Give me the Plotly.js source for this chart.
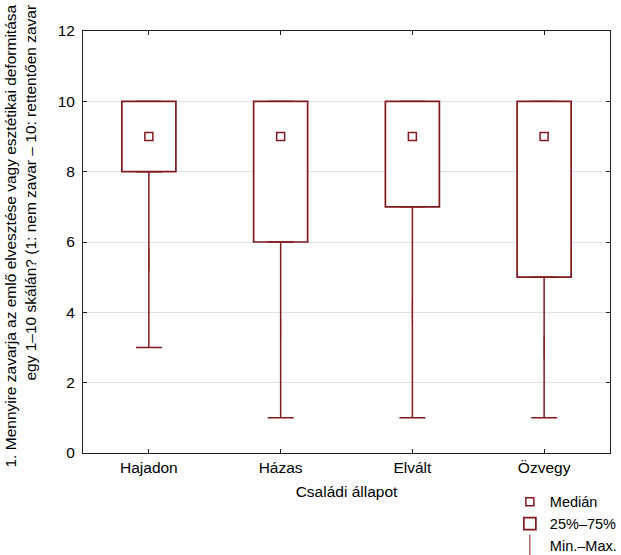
<!DOCTYPE html>
<html>
<head>
<meta charset="utf-8">
<script src="https://cdn.plot.ly/plotly-3.0.1.min.js"></script>
<style>html,body{margin:0;padding:0;background:#fff;}#chart{width:621px;height:555px;}</style>
</head>
<body>
<div id="chart"></div>
<script>
const categories = ["Hajadon", "Házas", "Elvált", "Özvegy"];
const minVals = [3, 1, 1, 1];
const q1Vals = [8, 6, 7, 5];
const medianVals = [9, 9, 9, 9];
const q3Vals = [10, 10, 10, 10];
const maxVals = [10, 10, 10, 10];
const yTicks = [0, 2, 4, 6, 8, 10, 12];

const RED = '#801a1f';
const FONT = 'Arial, "Liberation Sans", sans-serif';

const boxTrace = {
  type: 'bar', name: '25%–75%', x: categories,
  base: q1Vals, y: q3Vals.map((v, i) => v - q1Vals[i]),
  width: 0.41,
  marker: {color: '#ffffff', line: {color: RED, width: 1.7}},
  legendrank: 2, hoverinfo: 'skip'
};
// lower whisker: centred on the stem between min and Q1
const lowerWhisker = {
  type: 'scatter', mode: 'markers', name: 'Min.–Max.', x: categories,
  y: q1Vals.map((v, i) => (v + minVals[i]) / 2),
  marker: {symbol: 'line-ns-open', size: 16, color: RED, line: {width: 1.0, color: RED}},
  error_y: {type: 'data', symmetric: true,
            array: q1Vals.map((v, i) => (v - minVals[i]) / 2),
            color: RED, thickness: 1.5, width: 13},
  legendrank: 3, hoverinfo: 'skip'
};
const upperWhisker = {
  type: 'scatter', mode: 'markers', name: 'Min.–Max. ', x: categories, y: q3Vals,
  marker: {size: 1, opacity: 0, color: RED},
  error_y: {type: 'data', symmetric: false, array: q3Vals.map((v, i) => maxVals[i] - v),
            arrayminus: q3Vals.map(() => 0),
            color: 'rgba(128,26,31,0.55)', thickness: 1.5, width: 13},
  showlegend: false, hoverinfo: 'skip'
};
const medianTrace = {
  type: 'scatter', mode: 'markers', name: 'Medián', x: categories, y: medianVals,
  marker: {symbol: 'square-open', size: 8, color: RED, line: {width: 1.5, color: RED}},
  legendrank: 1, hoverinfo: 'skip'
};

const layout = {
  width: 621, height: 555,
  margin: {l: 83, r: 11, t: 31, b: 102, autoexpand: false},
  paper_bgcolor: '#ffffff', plot_bgcolor: '#ffffff',
  font: {family: FONT, size: 15.5, color: '#000'},
  barmode: 'overlay',
  showlegend: true,
  legend: {x: 0.81, xanchor: 'left', y: -0.078, yanchor: 'top',
           font: {size: 14.5, family: FONT}, tracegroupgap: 0, itemwidth: 30,
           bgcolor: 'rgba(0,0,0,0)'},
  xaxis: {
    type: 'category', range: [-0.5, 3.5],
    showline: true, linecolor: '#222', linewidth: 1, mirror: 'ticks',
    ticks: 'inside', ticklen: 4, tickcolor: '#222',
    showgrid: false, zeroline: false,
    tickfont: {size: 15.5},
    title: {text: 'Családi állapot', font: {size: 15.5}, standoff: 11}
  },
  yaxis: {
    range: [0, 12], tickvals: yTicks,
    showline: true, linecolor: '#222', linewidth: 1, mirror: 'ticks',
    ticks: 'inside', ticklen: 4, tickcolor: '#222', ticklabelstandoff: 4,
    showgrid: true, gridcolor: '#e2e2e2', gridwidth: 1, zeroline: false,
    tickfont: {size: 15.5}
  },
  annotations: [{
    xref: 'paper', yref: 'paper', x: -0.1195, y: 1.0664,
    xanchor: 'center', yanchor: 'top', textangle: -90, align: 'right',
    showarrow: false, font: {size: 15.5, family: FONT, color: '#000'},
    text: '1. Mennyire zavarja az emlő elvesztése vagy esztétikai deformitása<br>egy 1–10 skálán? (1: nem zavar – 10: rettentően zavar'
  }]
};

Plotly.newPlot('chart', [boxTrace, lowerWhisker, upperWhisker, medianTrace], layout, {displayModeBar: false, staticPlot: true});
</script>
</body>
</html>
